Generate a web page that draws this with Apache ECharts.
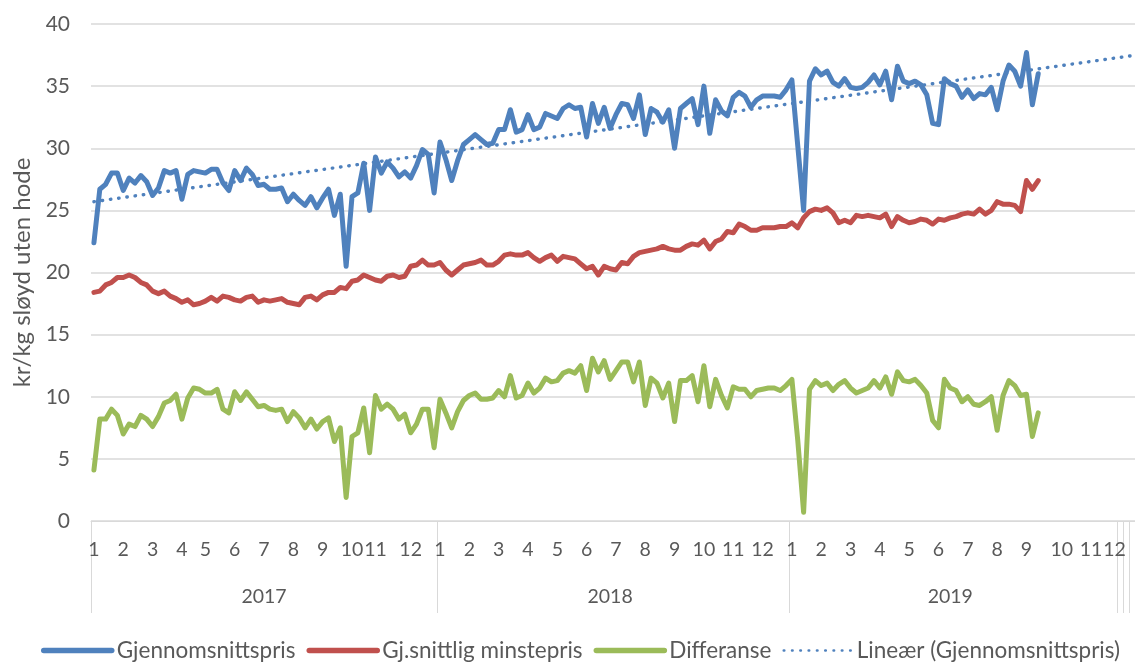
<!DOCTYPE html>
<html><head><meta charset="utf-8">
<script src="https://cdn.jsdelivr.net/npm/echarts@6/dist/echarts.min.js"></script>
<style>html,body{margin:0;padding:0;background:#fff}#c{width:1135px;height:662px}</style>
</head><body><div id="c"></div>
<script>
// ---- data ----
const years = ['2017', '2018', '2019'];
const weeksPerMonth2017 = [5, 5, 5, 4, 5, 5, 5, 5, 5, 4, 6, 5];
const weeksPerMonth2018 = [5, 5, 5, 5, 5, 5, 5, 5, 5, 5, 5, 5];
const weeksPerMonth2019 = [5, 5, 5, 5, 5, 5, 5, 5, 6, 5, 4, 1];
const trailingBlankCategories = 3;
const monthLabels = ['1', '2', '3', '4', '5', '6', '7', '8', '9', '10', '11', '12'];
const yTicks = [0, 5, 10, 15, 20, 25, 30, 35, 40];

const gjennomsnittspris = [
  22.4, 26.7, 27.1, 28.0, 28.0, 26.6, 27.6, 27.2, 27.8, 27.3, 26.2, 26.8, 28.2, 28.0, 28.2, 25.9, 27.9, 28.2, 28.1, 28.0,
  28.3, 28.3, 27.2, 26.6, 28.2, 27.4, 28.4, 27.9, 27.0, 27.1, 26.7, 26.7, 26.8, 25.7, 26.3, 25.8, 25.4, 26.1, 25.2, 26.0,
  26.7, 24.6, 26.3, 20.5, 26.1, 26.4, 28.8, 25.0, 29.3, 28.0, 28.9, 28.4, 27.7, 28.1, 27.6, 28.6, 29.9, 29.5, 26.4, 30.5,
  29.1, 27.4, 29.0, 30.3, 30.7, 31.1, 30.7, 30.3, 30.4, 31.5, 31.5, 33.1, 31.3, 31.5, 32.7, 31.5, 31.7, 32.8, 32.6, 32.4,
  33.2, 33.5, 33.2, 33.3, 30.9, 33.6, 32.0, 33.3, 31.6, 32.7, 33.6, 33.5, 32.4, 34.3, 31.1, 33.2, 32.9, 32.1, 33.1, 30.0,
  33.2, 33.6, 34.0, 31.9, 35.0, 31.2, 33.9, 33.0, 32.6, 34.1, 34.5, 34.2, 33.3, 33.9, 34.2, 34.2, 34.2, 34.1, 34.7, 35.5,
  30.2, 25.0, 35.4, 36.4, 35.9, 36.2, 35.3, 35.0, 35.6, 34.9, 34.8, 34.9, 35.3, 35.9, 35.1, 36.2, 33.9, 36.6, 35.4, 35.2,
  35.4, 35.1, 34.3, 32.0, 31.9, 35.6, 35.2, 35.0, 34.1, 34.7, 34.0, 34.4, 34.3, 34.9, 33.1, 35.4, 36.7, 36.2, 35.0, 37.7,
  33.5, 36.0
];
const minstepris = [
  18.4, 18.5, 19.0, 19.2, 19.6, 19.6, 19.8, 19.6, 19.2, 19.0, 18.5, 18.3, 18.5, 18.1, 17.9, 17.6, 17.8, 17.4, 17.5, 17.7,
  18.0, 17.7, 18.1, 18.0, 17.8, 17.7, 18.0, 18.1, 17.6, 17.8, 17.7, 17.8, 17.9, 17.6, 17.5, 17.4, 18.0, 18.1, 17.8, 18.2,
  18.4, 18.4, 18.8, 18.7, 19.3, 19.4, 19.8, 19.6, 19.4, 19.3, 19.7, 19.8, 19.6, 19.7, 20.5, 20.6, 21.0, 20.6, 20.6, 20.8,
  20.2, 19.8, 20.2, 20.6, 20.7, 20.8, 21.0, 20.6, 20.6, 20.9, 21.4, 21.5, 21.4, 21.4, 21.6, 21.2, 20.9, 21.2, 21.4, 20.9,
  21.3, 21.2, 21.1, 20.7, 20.3, 20.5, 19.8, 20.5, 20.3, 20.2, 20.8, 20.7, 21.3, 21.6, 21.7, 21.8, 21.9, 22.1, 21.9, 21.8,
  21.8, 22.1, 22.3, 22.2, 22.6, 21.9, 22.5, 22.7, 23.3, 23.2, 23.9, 23.7, 23.4, 23.4, 23.6, 23.6, 23.6, 23.7, 23.7, 24.0,
  23.6, 24.4, 24.9, 25.1, 25.0, 25.2, 24.8, 24.0, 24.2, 24.0, 24.6, 24.5, 24.6, 24.5, 24.4, 24.7, 23.7, 24.5, 24.2, 24.0,
  24.1, 24.3, 24.2, 23.9, 24.3, 24.2, 24.4, 24.5, 24.7, 24.8, 24.7, 25.1, 24.7, 25.0, 25.7, 25.5, 25.5, 25.4, 24.9, 27.4,
  26.7, 27.4
];
const differanse = [
  4.1, 8.2, 8.2, 9.0, 8.5, 7.0, 7.8, 7.6, 8.5, 8.2, 7.6, 8.4, 9.5, 9.7, 10.2, 8.2, 9.9, 10.7, 10.6, 10.3,
  10.3, 10.6, 9.0, 8.7, 10.4, 9.7, 10.4, 9.8, 9.2, 9.3, 9.0, 8.9, 9.0, 8.0, 8.8, 8.3, 7.5, 8.2, 7.4, 8.0,
  8.3, 6.4, 7.5, 1.9, 6.8, 7.1, 9.1, 5.5, 10.1, 9.0, 9.4, 9.0, 8.2, 8.6, 7.1, 7.8, 9.0, 9.0, 5.9, 9.8,
  8.7, 7.5, 8.8, 9.7, 10.1, 10.3, 9.8, 9.8, 9.9, 10.5, 10.0, 11.7, 9.9, 10.1, 11.1, 10.3, 10.7, 11.5, 11.2, 11.3,
  11.9, 12.1, 11.9, 12.5, 10.5, 13.1, 12.0, 12.9, 11.4, 12.1, 12.8, 12.8, 11.2, 12.8, 9.3, 11.5, 11.1, 9.9, 11.1, 8.0,
  11.3, 11.3, 11.7, 9.6, 12.5, 9.2, 11.4, 10.1, 9.1, 10.8, 10.6, 10.6, 10.0, 10.5, 10.6, 10.7, 10.7, 10.5, 10.9, 11.4,
  6.5, 0.7, 10.6, 11.3, 10.9, 11.1, 10.5, 11.0, 11.3, 10.7, 10.3, 10.5, 10.7, 11.3, 10.7, 11.6, 10.2, 12.0, 11.3, 11.2,
  11.4, 10.9, 10.3, 8.1, 7.5, 11.4, 10.7, 10.5, 9.6, 10.0, 9.4, 9.3, 9.6, 10.0, 7.3, 10.1, 11.3, 10.9, 10.1, 10.2,
  6.8, 8.7
];
// linear trend of Gjennomsnittspris: value at first and last category
const trendStart = 25.7;
const trendEnd = 37.45;

// ---- build categories ----
const weeksPerMonth = [weeksPerMonth2017, weeksPerMonth2018, weeksPerMonth2019];
const categories = [];
const monthLabelAt = {};
const yearLabelAt = {};
const separatorAt = new Set();
years.forEach((y, yi) => {
  const start = categories.length;
  separatorAt.add(start);
  weeksPerMonth[yi].forEach((n, mi) => {
    for (let k = 0; k < n; k++) {
      if (k === 0) monthLabelAt[categories.length] = monthLabels[mi];
      categories.push(y + '-' + monthLabels[mi] + '-' + (k + 1));
    }
  });
  const count = categories.length - start;
  yearLabelAt[start + Math.floor((count - 1) / 2)] = y;
});
for (let j = 0; j < trailingBlankCategories; j++) {
  separatorAt.add(categories.length);
  categories.push('blank-' + j);
}
const lastIndex = categories.length - 1;

const FONT = 'Lato, "Open Sans", sans-serif';
const TXT = '#595959';
const GRID = '#d9d9d9';
const BLUE = '#4f81bd', RED = '#c0504d', GREEN = '#9bbb59';

const names = ['Gjennomsnittspris', 'Gj.snittlig minstepris', 'Differanse', 'Lineær (Gjennomsnittspris)'];

const chart = echarts.init(document.getElementById('c'), null, {renderer: 'canvas'});
chart.setOption({
  animation: false,
  textStyle: {fontFamily: FONT},
  grid: {left: 91, right: 0, top: 24, bottom: 141, containLabel: false},
  legend: {
    top: 634, left: 36, itemWidth: 68, itemHeight: 14, itemGap: 11,
    textStyle: {fontSize: 22.5, color: TXT, fontFamily: FONT},
    itemStyle: {opacity: 0},
    data: [
      {name: names[0], lineStyle: {width: 5.5}},
      {name: names[1], lineStyle: {width: 5.5}},
      {name: names[2], lineStyle: {width: 5.5}},
      {name: names[3], lineStyle: {width: 2.6}}
    ]
  },
  xAxis: [{
    type: 'category', data: categories, boundaryGap: true, position: 'bottom',
    axisLine: {lineStyle: {color: GRID, width: 1}},
    axisTick: {show: true, length: 92, interval: (i) => separatorAt.has(i), lineStyle: {color: GRID, width: 1}},
    axisLabel: {
      interval: (i) => monthLabelAt[i] !== undefined,
      formatter: (v, i) => monthLabelAt[i] || '',
      fontSize: 19.5, color: TXT, margin: 19, fontFamily: FONT
    },
    splitLine: {show: false}
  }, {
    type: 'category', data: categories, boundaryGap: true, position: 'bottom', offset: 0,
    axisLine: {show: false}, axisTick: {show: false},
    axisLabel: {
      interval: (i) => yearLabelAt[i] !== undefined,
      formatter: (v, i) => yearLabelAt[i] || '',
      fontSize: 19.5, color: TXT, margin: 66, fontFamily: FONT
    }
  }],
  yAxis: {
    type: 'value', min: yTicks[0], max: yTicks[yTicks.length - 1], interval: 5,
    name: 'kr/kg sløyd uten hode', nameLocation: 'middle', nameGap: 50,
    nameTextStyle: {fontSize: 24, color: TXT, fontFamily: FONT},
    axisLine: {show: false}, axisTick: {show: false},
    axisLabel: {fontSize: 21, color: TXT, margin: 21, fontFamily: FONT},
    splitLine: {lineStyle: {color: GRID, width: 1.5}}
  },
  series: [{
    name: names[0], type: 'line', data: gjennomsnittspris, symbol: 'none',
    lineStyle: {color: BLUE, width: 5, cap: 'round', join: 'round'}, itemStyle: {color: BLUE}
  }, {
    name: names[1], type: 'line', data: minstepris, symbol: 'none',
    lineStyle: {color: RED, width: 5, cap: 'round', join: 'round'}, itemStyle: {color: RED}
  }, {
    name: names[2], type: 'line', data: differanse, symbol: 'none',
    lineStyle: {color: GREEN, width: 5, cap: 'round', join: 'round'}, itemStyle: {color: GREEN}
  }, {
    name: names[3], type: 'line', symbol: 'none',
    data: [[0, trendStart], [lastIndex, trendEnd]],
    lineStyle: {color: BLUE, width: 3.4, type: [0.5, 7.8], cap: 'round'}, itemStyle: {color: BLUE}
  }]
});
</script></body></html>
